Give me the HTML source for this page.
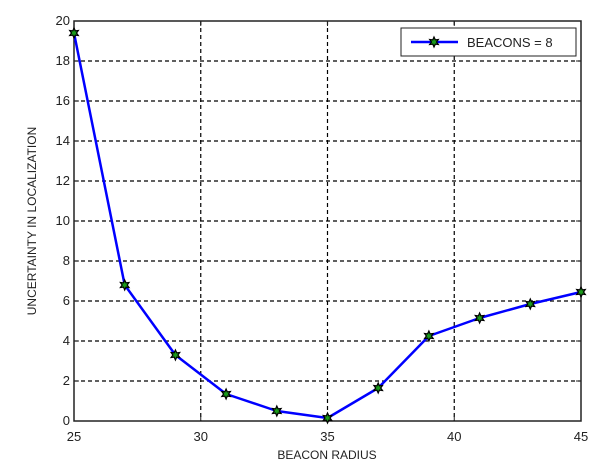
<!DOCTYPE html>
<html><head><meta charset="utf-8"><style>
body{margin:0;background:#fff;}
svg{display:block;font-family:"Liberation Sans",Arial,sans-serif;}
</style></head><body>
<svg id="chart" width="606" height="475" viewBox="0 0 606 475" xmlns="http://www.w3.org/2000/svg">
<rect x="0" y="0" width="606" height="475" fill="#fff"/>
<g id="grid"></g>
<g id="ticks"></g>
<rect x="74" y="21" width="507" height="400" fill="none" stroke="#222" stroke-width="1.5"/>
<g id="series"></g>
<text x="327" y="459" font-size="12" text-anchor="middle" fill="#222">BEACON RADIUS</text>
<text transform="translate(36,221) rotate(-90)" font-size="12" text-anchor="middle" fill="#222">UNCERTAINTY IN LOCALIZATION</text>
<g>
<rect x="401" y="28" width="175" height="28" fill="#fff" stroke="#222" stroke-width="1"/>
<line x1="411" y1="42" x2="458" y2="42" stroke="#0000ff" stroke-width="2.5"/>
<polygon id="legmark" fill="#1a9a1a" stroke="#000" stroke-width="1.2"/>
<text x="467" y="47" font-size="13" fill="#222">BEACONS = 8</text>
</g>
</svg>
<script>
const xValues=[25,27,29,31,33,35,37,39,41,43,45];
const yValues=[19.4,6.8,3.3,1.35,0.5,0.15,1.65,4.25,5.15,5.85,6.45];
const xTicks=[25,30,35,40,45];
const yTicks=[0,2,4,6,8,10,12,14,16,18,20];
const NS="http://www.w3.org/2000/svg";
const L=74,R=581,T=21,B=421;
const sx=v=>L+(v-25)/(45-25)*(R-L);
const sy=v=>B-(v-0)/(20-0)*(B-T);
function mk(t,a,p){const e=document.createElementNS(NS,t);for(const k in a)e.setAttribute(k,a[k]);p.appendChild(e);return e;}
function star(cx,cy,r){let p=[];for(let i=0;i<12;i++){const rr=i%2?r*0.5:r;const an=-Math.PI/2+i*Math.PI/6;p.push((cx+rr*Math.cos(an)).toFixed(1)+","+(cy+rr*Math.sin(an)).toFixed(1));}return p.join(" ");}
const grid=document.getElementById('grid'),ticks=document.getElementById('ticks'),series=document.getElementById('series');
xTicks.forEach(v=>{const x=sx(v);
 if(v!==25&&v!==45){const g=mk('line',{x1:x,y1:T,x2:x,y2:B,stroke:'#000','stroke-width':1.2,'stroke-dasharray':'4,3'},grid);}
 const t=mk('text',{x:x,y:441,'font-size':13,'text-anchor':'middle',fill:'#222'},ticks);t.textContent=v;
 
 mk('line',{x1:x,y1:B,x2:x,y2:B-5,stroke:'#222'},ticks);mk('line',{x1:x,y1:T,x2:x,y2:T+5,stroke:'#222'},ticks);});
yTicks.forEach(v=>{const y=sy(v);
 if(v!==0&&v!==20){const g=mk('line',{x1:L,y1:y,x2:R,y2:y,stroke:'#000','stroke-width':1.2,'stroke-dasharray':'4,3'},grid);}
 const t=mk('text',{x:L-4,y:y+4,'font-size':13,'text-anchor':'end',fill:'#222'},ticks);t.textContent=v;
 
 mk('line',{x1:L,y1:y,x2:L+5,y2:y,stroke:'#222'},ticks);mk('line',{x1:R,y1:y,x2:R-5,y2:y,stroke:'#222'},ticks);});
const pts=xValues.map((v,i)=>sx(v)+","+sy(yValues[i])).join(" ");
const pl=mk('polyline',{points:pts,fill:'none',stroke:'#0000ff','stroke-width':2.5,'stroke-linejoin':'round'},series);

xValues.forEach((v,i)=>{const m=mk('polygon',{points:star(sx(v),sy(yValues[i]),5),fill:'#1a9a1a',stroke:'#000','stroke-width':1.2},series);
 });
document.getElementById('legmark').setAttribute('points',star(434,42,5));
</script>
</body></html>
